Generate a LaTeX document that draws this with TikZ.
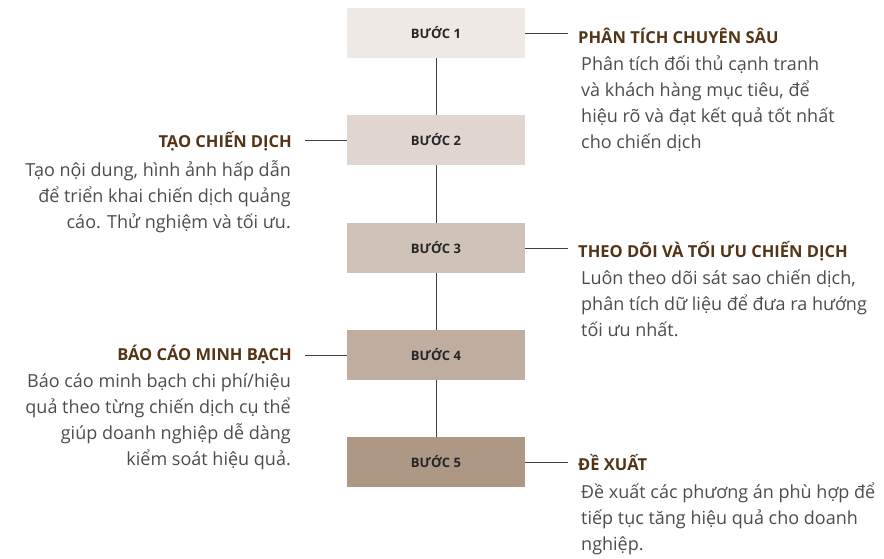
\documentclass[tikz,border=0pt]{standalone}
\usepackage{fontspec}
\setmainfont{Open Sans}
\begin{document}
\begin{tikzpicture}[x=1pt,y=-1pt,
 box/.style={minimum width=178pt,minimum height=50pt,inner sep=0pt,font=\bfseries\fontsize{13}{15}\selectfont,text=black!85},
 ttl/.style={font=\bfseries\fontsize{16.5}{19}\selectfont,text={rgb,255:red,84;green,52;blue,22},inner sep=0pt},
 bodyr/.style={font=\fontsize{18}{26}\selectfont,text=black!70,align=left,anchor=north west,inner sep=0pt},
 bodyl/.style={font=\fontsize{18}{26}\selectfont,text=black!70,align=right,anchor=north east,inner sep=0pt},
 ln/.style={draw=black!75,line width=0.8pt}]
\useasboundingbox (0,0) rectangle (884,558);
\definecolor{c1}{HTML}{EFE9E5}\definecolor{c2}{HTML}{E0D6CF}\definecolor{c3}{HTML}{CFC3B8}
\definecolor{c4}{HTML}{BFAD9F}\definecolor{c5}{HTML}{AD9886}
\node[box,fill=c1] (b1) at (436,33) {BƯỚC 1};
\node[box,fill=c2] (b2) at (436,140) {BƯỚC 2};
\node[box,fill=c3] (b3) at (436,248) {BƯỚC 3};
\node[box,fill=c4] (b4) at (436,355) {BƯỚC 4};
\node[box,fill=c5] (b5) at (436,462) {BƯỚC 5};
\draw[ln] (b1)--(b2) (b2)--(b3) (b3)--(b4) (b4)--(b5);
\node[ttl,anchor=west] (t1) at (578,36) {PHÂN TÍCH CHUYÊN SÂU};
\node[ttl,anchor=east] (t2) at (292,141) {TẠO CHIẾN DỊCH};
\node[ttl,anchor=west] (t3) at (578,251) {THEO DÕI VÀ TỐI ƯU CHIẾN DỊCH};
\node[ttl,anchor=east] (t4) at (292,355) {BÁO CÁO MINH BẠCH};
\node[ttl,anchor=west] (t5) at (578,463) {ĐỀ XUẤT};
\coordinate (r1) at (568,33);\coordinate (l2) at (305,140);\coordinate (r3) at (568,248);
\coordinate (l4) at (305,355);\coordinate (r5) at (568,462);
\draw[ln] (b1.east)--(r1) (b2.west)--(l2) (b3.east)--(r3) (b4.west)--(l4) (b5.east)--(r5);
\node[bodyr] (d1) at (581,56) {Phân tích đối thủ cạnh tranh\\và khách hàng mục tiêu, để\\hiệu rõ và đạt kết quả tốt nhất\\cho chiến dịch};
\node[bodyl] (d2) at (291,160) {Tạo nội dung, hình ảnh hấp dẫn\\để triển khai chiến dịch quảng\\cáo. Thử nghiệm và tối ưu.};
\node[bodyr] (d3) at (581,270) {Luôn theo dõi sát sao chiến dịch,\\phân tích dữ liệu để đưa ra hướng\\tối ưu nhất.};
\node[bodyl] (d4) at (291,374) {Báo cáo minh bạch chi phí/hiệu\\quả theo từng chiến dịch cụ thể\\giúp doanh nghiệp dễ dàng\\kiểm soát hiệu quả.};
\node[bodyr] (d5) at (581,483) {Đề xuất các phương án phù hợp để\\tiếp tục tăng hiệu quả cho doanh\\nghiệp.};
\end{tikzpicture}
\end{document}
